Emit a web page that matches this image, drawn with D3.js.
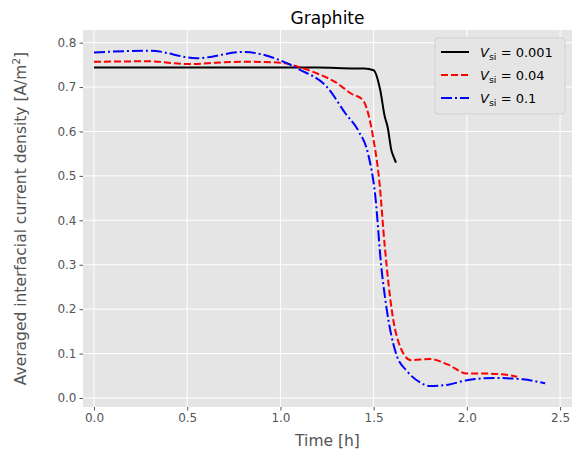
<!DOCTYPE html><html><head><meta charset="utf-8"><script src="https://cdn.jsdelivr.net/npm/d3@7"></script>
<style>body{margin:0;background:#fff}text{font-family:"DejaVu Sans",sans-serif}</style></head><body><svg id="c" width="580" height="460"></svg><script>
const blackT=[0,0.3,0.6,0.9,1.2,1.4,1.45,1.5,1.535,1.56,1.575,1.595,1.61,1.62];
const blackV=[0.744,0.744,0.744,0.744,0.744,0.742,0.742,0.738,0.694,0.633,0.61,0.558,0.54,0.53];
const redT=[0,0.3,0.5,0.8,1.0,1.1,1.2,1.3,1.38,1.44,1.5,1.53,1.56,1.6,1.65,1.7,1.8,1.9,2.0,2.1,2.2,2.27];
const redV=[0.757,0.758,0.752,0.757,0.755,0.745,0.73,0.71,0.685,0.672,0.58,0.49,0.34,0.19,0.108,0.085,0.088,0.075,0.055,0.055,0.053,0.048];
const blueT=[0,0.3,0.55,0.8,1.0,1.1,1.25,1.35,1.42,1.47,1.51,1.54,1.57,1.62,1.68,1.75,1.8,1.9,2.0,2.15,2.3,2.42];
const blueV=[0.778,0.782,0.765,0.779,0.76,0.74,0.70,0.64,0.60,0.55,0.45,0.30,0.20,0.10,0.06,0.035,0.027,0.03,0.04,0.045,0.042,0.033];
const xTicks=[0,0.5,1.0,1.5,2.0,2.5], yTicks=[0,0.1,0.2,0.3,0.4,0.5,0.6,0.7,0.8];
const svg=d3.select("#c"),L=83,R=572,T=30,B=407;
const x=d3.scaleLinear().domain([-0.059,2.564]).range([L,R]);
const y=d3.scaleLinear().domain([-0.0203,0.8285]).range([B,T]);
svg.append("rect").attr("x",L).attr("y",T).attr("width",R-L).attr("height",B-T).attr("fill","#e5e5e5");
xTicks.forEach(t=>svg.append("line").attr("x1",x(t)).attr("x2",x(t)).attr("y1",T).attr("y2",B).attr("stroke","#fff"));
yTicks.forEach(t=>svg.append("line").attr("y1",y(t)).attr("y2",y(t)).attr("x1",L).attr("x2",R).attr("stroke","#fff"));
const gx=svg.append("g").attr("transform",`translate(0,${B})`).call(d3.axisBottom(x).tickValues(xTicks).tickFormat(d3.format(".1f")).tickSize(3.5));
const gy=svg.append("g").attr("transform",`translate(${L},0)`).call(d3.axisLeft(y).tickValues(yTicks).tickFormat(d3.format(".1f")).tickSize(3.5));
[gx,gy].forEach(g=>{g.select(".domain").remove();g.selectAll("line").attr("stroke","#555");g.selectAll("text").attr("fill","#555").attr("font-size",12).attr("font-family","DejaVu Sans");});
const line=d3.line().curve(d3.curveMonotoneX);
function draw(ts,vs,c,dash){svg.append("path").attr("d",line(ts.map((t,i)=>[x(t),y(vs[i])]))).attr("fill","none").attr("stroke",c).attr("stroke-width",2).attr("stroke-dasharray",dash);}
draw(blackT,blackV,"#000",null);draw(redT,redV,"#f00","7,3");draw(blueT,blueV,"#00f","11,3,2,3");
svg.append("text").attr("x",(L+R)/2).attr("y",24).attr("text-anchor","middle").attr("font-size",17).text("Graphite");
svg.append("text").attr("x",(L+R)/2).attr("y",446).attr("text-anchor","middle").attr("font-size",15.5).attr("fill","#555").text("Time [h]");
svg.append("text").attr("transform",`translate(26,${(T+B)/2}) rotate(-90)`).attr("text-anchor","middle").attr("font-size",15.5).attr("fill","#555").html('Averaged interfacial current density [A/m<tspan baseline-shift="super" font-size="10.5">2</tspan>]');
const lg=svg.append("g");
lg.append("rect").attr("x",435).attr("y",38).attr("width",130).attr("height",76).attr("rx",3).attr("fill","#e5e5e5").attr("stroke","#ccc").attr("stroke-opacity",0.8);
[["0.001","#000",null],["0.04","#f00","7,3"],["0.1","#00f","11,3,2,3"]].forEach((d,i)=>{const yy=52+i*23;
lg.append("line").attr("x1",441).attr("x2",469).attr("y1",yy).attr("y2",yy).attr("stroke",d[1]).attr("stroke-width",2).attr("stroke-dasharray",d[2]);
lg.append("text").attr("x",480).attr("y",yy+5).attr("font-size",13).html(`<tspan font-style="italic">V</tspan><tspan font-size="9.5" dy="3">si</tspan><tspan dy="-3"> = ${d[0]}</tspan>`);});
</script></body></html>
